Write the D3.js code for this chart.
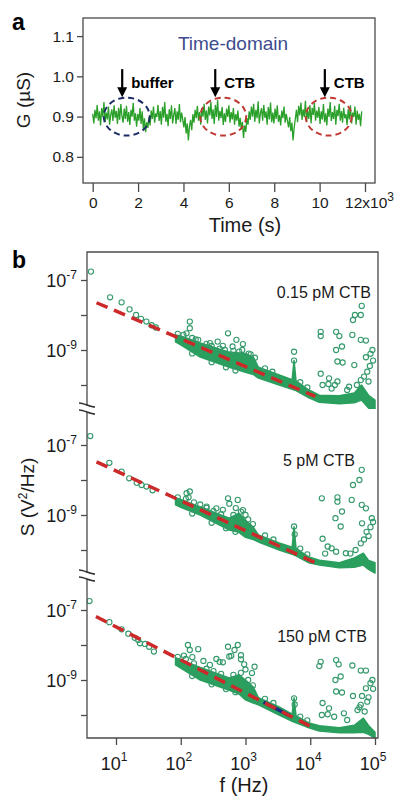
<!DOCTYPE html>
<html><head><meta charset="utf-8">
<script src="https://cdn.jsdelivr.net/npm/d3@7/dist/d3.min.js"></script>
<style>
body{margin:0;background:#fff}
svg{display:block;font-family:"Liberation Sans",Arial,sans-serif}
</style>
</head><body>
<svg id="c" width="400" height="805"></svg>
<script>
// ---------------- Panel a data ----------------
const conductance = [
0.907,0.883,0.917,0.896,0.929,0.890,0.913,0.878,0.921,0.899,0.936,0.886,0.910,0.893,0.925,0.880,0.904,0.918,0.889,0.928,
0.897,0.914,0.882,0.922,0.892,0.931,0.901,0.885,0.920,0.894,0.927,0.887,0.911,0.879,0.917,0.900,0.934,0.890,0.908,0.875,
0.906,0.890,0.921,0.882,0.913,0.869,0.896,0.861,0.886,0.872,0.899,0.878,0.915,0.894,0.925,0.885,0.908,0.899,0.929,0.889,
0.914,0.880,0.924,0.897,0.936,0.887,0.907,0.876,0.918,0.894,0.928,0.883,0.904,0.921,0.882,0.913,0.892,0.931,0.886,0.910,
0.893,0.873,0.899,0.858,0.883,0.841,0.876,0.892,0.866,0.906,0.885,0.917,0.896,0.927,0.890,0.911,0.880,0.921,0.900,0.932,
0.892,0.915,0.883,0.925,0.903,0.936,0.894,0.918,0.882,0.929,0.899,0.942,0.890,0.914,0.896,0.924,0.879,0.908,0.887,0.920,
0.899,0.928,0.885,0.911,0.893,0.921,0.880,0.906,0.890,0.915,0.875,0.897,0.868,0.887,0.847,0.878,0.862,0.896,0.880,0.913,
0.892,0.925,0.900,0.932,0.887,0.917,0.896,0.938,0.883,0.908,0.921,0.890,0.929,0.897,0.913,0.880,0.924,0.893,0.935,0.886,
0.910,0.883,0.920,0.894,0.928,0.887,0.904,0.878,0.915,0.896,0.925,0.885,0.907,0.890,0.873,0.899,0.864,0.885,0.841,0.872,
0.894,0.917,0.886,0.927,0.903,0.935,0.892,0.918,0.899,0.939,0.887,0.914,0.894,0.929,0.883,0.922,0.904,0.934,0.890,0.915,
0.897,0.924,0.882,0.913,0.893,0.931,0.886,0.908,0.878,0.920,0.899,0.936,0.889,0.911,0.894,0.927,0.880,0.917,0.901,0.932,
0.890,0.914,0.885,0.922,0.896,0.906,0.879,0.918,0.893,0.928,0.883,0.910,0.899,0.925,0.880,0.915,0.892,0.907,0.876,0.913
];
const traceStep = 49.6; // s between samples
const timeTicks = [0,2000,4000,6000,8000,10000,12000];
const timeTickLabels = ["0","2","4","6","8","10","12x10"];
const gTicks = [0.8,0.9,1.0,1.1];
const gTickLabels = ["0.8","0.9","1.0","1.1"];
const markerTimes = [1300,5400,10230];
const markerLabels = ["buffer","CTB","CTB"];
const circleTimes = [1500,5750,10400];
const circleKinds = ["buffer","CTB","CTB"];

// ---------------- Panel b data ----------------
const concentrations = ["0.15 pM CTB","5 pM CTB","150 pM CTB"];
const freqTicks = [10,100,1000,10000,100000];
const freqTickExp = ["1","2","3","4","5"];
const psdTicks = [1e-7,1e-8,1e-9,1e-10];
const psdLabelTicks = [1e-7,1e-9];
const psdLabelExp = ["-7","-9"];

// low-frequency sparse points [f (Hz), S (V^2/Hz)]
const lowF1 = [[4.1,1.74e-7],[8.1,3.2e-8],[12.2,2.3e-8],[16.2,1.45e-8],[20.4,1.0e-8],[24.3,7.8e-9],[29.5,6.5e-9],[35.5,5.1e-9],[41.2,4.4e-9]];
const lowF2 = [[4.0,1.8e-7],[7.9,3.1e-8],[12.2,1.74e-8],[16.0,1.12e-8],[20.9,8.3e-9],[24.8,7.2e-9],[29.5,6.5e-9],[36.7,5.1e-9]];
const lowF3 = [[3.9,1.8e-7],[7.9,4.5e-8],[12.2,2.8e-8],[15.5,2.1e-8],[19.5,1.6e-8],[22.0,1.4e-8],[23.4,1.12e-8],[28.0,1.07e-8],[32.5,8.9e-9],[38.5,6.5e-9]];

// dense band envelope [f, S low, S high]
const band1 = [[83,1.7e-9,2.7e-9],[100,1.41e-9,2.5e-9],[200,6.3e-10,1.58e-9],[562,3.2e-10,8.7e-10],[1000,2.3e-10,7.9e-10],[1318,2.0e-10,6.3e-10],[1585,1.58e-10,3.2e-10],[3311,1.0e-10,1.95e-10],[5250,7.6e-11,1.41e-10],[5623,7.2e-11,5.0e-10],[6026,6.9e-11,1.32e-10],[9550,4.3e-11,7.2e-11],[13800,3.2e-11,5.1e-11],[28200,2.9e-11,4.9e-11],[47900,3.1e-11,5.9e-11],[61700,3.7e-11,1.0e-10],[79400,2.2e-11,5.1e-11],[100000,1.7e-11,3.7e-11]];
const band2 = [[83,1.95e-9,3.1e-9],[100,1.66e-9,2.8e-9],[200,1.0e-9,1.7e-9],[562,3.7e-10,8.1e-10],[794,3.2e-10,1.12e-9],[1000,2.3e-10,7.1e-10],[1318,2.0e-10,4.5e-10],[1585,1.7e-10,2.7e-10],[3311,1.0e-10,1.58e-10],[5250,7.6e-11,1.2e-10],[5623,7.2e-11,4.6e-10],[6026,6.8e-11,1.12e-10],[9550,4.3e-11,6.3e-11],[13800,3.7e-11,5.1e-11],[28200,3.1e-11,4.3e-11],[47900,3.2e-11,5.9e-11],[66100,3.7e-11,8.1e-11],[79400,2.8e-11,5.0e-11],[100000,2.2e-11,4.3e-11]];
const band3 = [[83,2.7e-9,4.3e-9],[100,2.2e-9,3.8e-9],[200,1.0e-9,2.3e-9],[562,5.1e-10,1.15e-9],[794,4.0e-10,1.41e-9],[1000,2.7e-10,1.0e-9],[1318,2.2e-10,6.3e-10],[1585,1.95e-10,3.1e-10],[3311,1.0e-10,1.7e-10],[5250,6.6e-11,1.05e-10],[5623,6.3e-11,3.1e-10],[6026,6.0e-11,9.5e-11],[9550,4.3e-11,5.9e-11],[13800,3.5e-11,4.9e-11],[28200,3.1e-11,4.3e-11],[47900,3.1e-11,5.1e-11],[66100,3.2e-11,8.1e-11],[79400,2.8e-11,5.0e-11],[100000,2.2e-11,3.2e-11]];

// points along the edges of the dense band [f, S]
const edge1 = [[90,2.9e-9],[110,2.7e-9],[150,2.2e-9],[170,2.0e-9],[250,1.5e-9],[300,1.3e-9],[400,1.1e-9],[480,1.0e-9],[650,9.5e-10],[800,9.0e-10],[1200,7.5e-10],[1400,6.0e-10],[2000,3.0e-10],[2600,2.4e-10],[7000,1.2e-10],[9000,8.5e-11],[150,8.0e-10],[300,4.5e-10],[500,3.2e-10],[700,2.6e-10]];
const edge2 = [[90,3.2e-9],[120,2.9e-9],[160,2.3e-9],[250,1.6e-9],[320,1.3e-9],[420,1.05e-9],[650,1.0e-9],[850,1.25e-9],[1100,7.5e-10],[1300,5.5e-10],[2000,2.6e-10],[2700,2.0e-10],[7000,1.1e-10],[9000,7.5e-11],[150,1.1e-9],[300,6.0e-10],[500,4.2e-10],[700,3.3e-10]];
const edge3 = [[90,4.6e-9],[120,4.0e-9],[160,3.0e-9],[250,2.1e-9],[320,1.8e-9],[420,1.5e-9],[650,1.4e-9],[850,1.6e-9],[1100,1.0e-9],[1300,7.0e-10],[2000,2.9e-10],[2700,2.2e-10],[7000,9.0e-11],[9000,7.0e-11],[150,1.3e-9],[300,7.5e-10],[500,5.5e-10],[700,4.5e-10]];

// scattered points above the band [f, S]
const scatter1 = [[138,6.5e-9],[138,4.2e-9],[123,3.0e-9],[186,1.95e-9],[372,1.74e-9],[537,3.0e-9],[724,1.95e-9],[912,1.48e-9],[631,1.26e-9],[447,1.32e-9],[891,1.0e-9],[1122,7.9e-10],[282,1.58e-9],[5623,8.9e-10],[5623,5.0e-10],
[62400,1.82e-8],[45700,7.2e-9],[49000,1.0e-8],[60300,1.0e-8],[14500,3.3e-9],[14500,2.5e-9],[25100,3.3e-9],[28200,2.5e-9],[44700,2.7e-9],[60300,1.95e-9],[72400,1.86e-9],[25100,1.0e-9],[30900,1.26e-9],[26300,4.7e-10],[31600,4.4e-10],[47900,3.7e-10],[72400,6.2e-10],[85100,7.8e-10],[91200,1.0e-9],[14500,2.1e-10],[19500,1.55e-10],[15500,1.0e-10],[19100,1.07e-10],[24000,1.0e-10],[26300,1.26e-10],[37200,7.2e-11],[60300,1.38e-10],[67600,1.74e-10],[75900,2.4e-10],[39800,8.9e-11],[21400,7.9e-11],[52500,1.0e-10],[79400,1.26e-10],[83200,3.5e-10],[93300,5.0e-10]];
const scatter2 = [[123,4.2e-9],[138,4.7e-9],[132,3.2e-9],[537,3.0e-9],[562,2.1e-9],[759,2.7e-9],[912,1.38e-9],[251,1.74e-9],[355,1.55e-9],[200,2.0e-9],[447,1.41e-9],[708,1.58e-9],[1000,1.0e-9],[5623,4.7e-10],[5750,2.8e-10],
[62400,1.95e-8],[57500,1.0e-8],[45700,7.2e-9],[15100,3.0e-9],[26300,3.2e-9],[26300,2.4e-9],[43700,2.7e-9],[62400,1.95e-9],[72400,1.55e-9],[89100,8.1e-10],[24500,8.1e-10],[30900,1.26e-9],[29500,4.7e-10],[63100,5.8e-10],[74100,3.3e-10],[15500,2.1e-10],[18600,1.26e-10],[21400,1.12e-10],[35500,8.1e-11],[60300,1.55e-10],[67600,2.0e-10],[79400,2.5e-10],[85100,4.5e-10],[93300,6.3e-10],[25100,8.9e-11],[41700,7.9e-11],[50100,1.0e-10],[17000,7.9e-11]];
const scatter3 = [[129,1.0e-8],[138,7.2e-9],[186,7.6e-9],[537,8.9e-9],[562,4.7e-9],[759,1.0e-8],[676,7.2e-9],[851,5.1e-9],[851,3.9e-9],[603,4.9e-9],[1380,2.4e-9],[398,3.3e-9],[282,2.7e-9],[224,3.5e-9],[355,4.0e-9],[447,3.2e-9],[112,5.0e-9],[151,4.5e-9],[1000,2.0e-9],[1259,1.58e-9],[955,2.8e-9],[5623,3.0e-10],[5750,2.0e-10],
[13800,2.5e-9],[14500,3.3e-9],[25100,3.7e-9],[27500,2.8e-9],[44700,2.6e-9],[60300,1.86e-9],[72400,1.86e-9],[24500,1.0e-9],[29500,1.26e-9],[25100,4.7e-10],[30900,4.4e-10],[45700,3.5e-10],[85100,8.1e-10],[91200,1.0e-9],[72400,5.8e-10],[63100,3.5e-10],[60300,1.95e-10],[15500,2.2e-10],[19500,1.55e-10],[15100,1.0e-10],[18600,1.05e-10],[23400,8.9e-11],[37200,7.2e-11],[53700,1.38e-10],[57500,1.66e-10],[75900,2.4e-10],[79400,3.2e-10],[69200,1.26e-10],[93300,5.6e-10],[33100,1.12e-10]];

// 1/f fit lines [[f0,S0],[f1,S1]]
const fit1 = [[5.0,2.24e-8],[12000,4.7e-11]];
const fit2 = [[5.0,3.3e-8],[12300,4.2e-11]];
const fit3 = [[4.9,6.5e-8],[11500,4.2e-11]];
const fit3Highlight = [1900,4800];

// ---------------- Drawing ----------------
const svg = d3.select("#c");
const GREEN_TRACE = "#2aa02a";
const axisColor = "#4a4a4a";
const textColor = "#1a1a1a";

// ===== Panel a =====
const xT = d3.scaleLinear().domain([0,12000]).range([92.7,365]);
const yG = d3.scaleLinear().domain([0.735,1.145]).range([183,18]);

const trace = conductance.map((g,i)=>[i*traceStep, g]);
svg.append("path").datum(trace)
  .attr("d", d3.line().x(d=>xT(d[0])).y(d=>yG(d[1])))
  .attr("fill","none").attr("stroke",GREEN_TRACE).attr("stroke-width",1.3);

// ellipses
svg.selectAll(".ell").data(circleTimes).enter().append("ellipse")
  .attr("cx",d=>xT(d)).attr("cy",yG(0.9)).attr("rx",23).attr("ry",19)
  .attr("fill","none")
  .attr("stroke",(d,i)=>circleKinds[i]==="buffer"?"#1c2a66":"#c03a34")
  .attr("stroke-width",2).attr("stroke-dasharray","6,4");

// arrows
markerTimes.forEach((t,i)=>{
  const x = xT(t);
  svg.append("line").attr("x1",x).attr("x2",x).attr("y1",yG(1.018)).attr("y2",yG(0.97))
    .attr("stroke","#000").attr("stroke-width",2.2);
  svg.append("path").attr("d",`M${x-5},${yG(0.973)}L${x+5},${yG(0.973)}L${x},${yG(0.948)}Z`).attr("fill","#000");
  svg.append("text").attr("x",x+9).attr("y",88).attr("font-size",15).attr("font-weight","bold")
    .attr("fill","#000").text(markerLabels[i]);
});

// frame
svg.append("rect").attr("x",83).attr("y",18).attr("width",292).attr("height",165)
  .attr("fill","none").attr("stroke",axisColor).attr("stroke-width",1.3);

const gy = svg.append("g").attr("transform","translate(83,0)")
  .call(d3.axisLeft(yG).tickValues(gTicks).tickSize(6).tickPadding(3).tickFormat((d,i)=>gTickLabels[i]));
const gx = svg.append("g").attr("transform","translate(0,183)")
  .call(d3.axisBottom(xT).tickValues(timeTicks).tickSize(9).tickPadding(5).tickFormat((d,i)=>timeTickLabels[i]));
[gy,gx].forEach(g=>{
  g.select(".domain").remove();
  g.selectAll(".tick line").attr("stroke",axisColor).attr("stroke-width",1.3);
  g.selectAll(".tick text").attr("fill",textColor).attr("font-size",15.5).attr("font-family","Liberation Sans, Arial, sans-serif");
});
gx.selectAll(".tick text").filter((d,i)=>i===timeTicks.length-1)
  .attr("dx","4").append("tspan").attr("dy","-7").attr("font-size",12).text("3");

svg.append("text").attr("x",233).attr("y",50).attr("text-anchor","middle")
  .attr("font-size",19).attr("fill","#3e4b8e").text("Time-domain");
svg.append("text").attr("x",245).attr("y",232).attr("text-anchor","middle")
  .attr("font-size",20).attr("fill",textColor).text("Time (s)");
svg.append("text").attr("transform","translate(30,100) rotate(-90)").attr("text-anchor","middle")
  .attr("font-size",19).attr("fill",textColor).text("G (µS)");
svg.append("text").attr("x",12).attr("y",30).attr("font-size",23).attr("font-weight","bold").text("a");

// ===== Panel b =====
const xF = d3.scaleLog().domain([10,1e5]).range([116,375]);
const subTops = [252,417,582];
const subClips = [[252,409],[409,576],[576,738]];
const lows = [lowF1,lowF2,lowF3];
const bands = [band1,band2,band3];
const edges = [edge1,edge2,edge3];
const scatters = [scatter1,scatter2,scatter3];
const fits = [fit1,fit2,fit3];
const labelPos = [[371,298],[355,466],[367,642]];

const defs = svg.append("defs");
subTops.forEach((top,k)=>{
  const y = d3.scaleLog().domain([1e-7,1e-10]).range([top+28, top+133]);
  defs.append("clipPath").attr("id","clip"+k).append("rect")
    .attr("x",87).attr("y",subClips[k][0]).attr("width",291).attr("height",subClips[k][1]-subClips[k][0]);
  const g = svg.append("g").attr("clip-path",`url(#clip${k})`);
  const BAND = "#2a9f5e";
  g.append("path").datum(bands[k])
    .attr("d", d3.area().x(d=>xF(d[0])).y0(d=>y(d[1])).y1(d=>y(d[2])))
    .attr("fill",BAND).attr("stroke",BAND).attr("stroke-width",1.5).attr("stroke-linejoin","round");
  g.selectAll(".pt").data(lows[k].concat(edges[k], scatters[k])).enter().append("circle")
    .attr("cx",d=>xF(d[0])).attr("cy",d=>y(d[1])).attr("r",2.6)
    .attr("fill","none").attr("stroke","#34996a").attr("stroke-width",1.1);
  const ln = d3.line().x(d=>xF(d[0])).y(d=>y(d[1]));
  if(k===2){
    const f = fits[k];
    const slope = Math.log(f[1][1]/f[0][1])/Math.log(f[1][0]/f[0][0]);
    const hl = fit3Highlight.map(fr=>[fr, f[0][1]*Math.pow(fr/f[0][0],slope)]);
    g.append("path").datum(hl).attr("d",ln).attr("stroke","#1d2a80").attr("stroke-width",3.5).attr("fill","none");
  }
  g.append("path").datum(fits[k]).attr("d",ln)
    .attr("fill","none").attr("stroke","#cc2a2a").attr("stroke-width",3.5).attr("stroke-dasharray","12,7");

  // y axis ticks
  const ay = svg.append("g").attr("transform","translate(87,0)")
    .call(d3.axisLeft(y).tickValues(psdTicks).tickSize(6).tickFormat(()=>""));
  ay.select(".domain").remove();
  ay.selectAll(".tick line").attr("stroke",axisColor).attr("stroke-width",1.3);
  psdLabelTicks.forEach((v,j)=>{
    const t = svg.append("text").attr("x",77).attr("y",y(v)+7).attr("text-anchor","end")
      .attr("font-size",18).attr("fill",textColor);
    t.append("tspan").text("10");
    t.append("tspan").attr("dy",-8).attr("font-size",12).text(psdLabelExp[j]);
  });
  svg.append("text").attr("x",labelPos[k][0]).attr("y",labelPos[k][1]).attr("text-anchor","end")
    .attr("font-size",16).attr("fill",textColor).text(concentrations[k]);
});

// frame of panel b
svg.append("path").attr("d","M87,252H378V738H87Z").attr("fill","none").attr("stroke",axisColor).attr("stroke-width",1.3);
// axis breaks
[409,576].forEach(yb=>{
  svg.append("rect").attr("x",83).attr("y",yb-3).attr("width",8).attr("height",6).attr("fill","#fff");
  svg.append("path").attr("d",`M79,${yb-6}C84,${yb-6} 90,${yb-2} 95,${yb-2}`).attr("fill","none").attr("stroke","#333").attr("stroke-width",1.6);
  svg.append("path").attr("d",`M79,${yb+1}C84,${yb+1} 90,${yb+5} 95,${yb+5}`).attr("fill","none").attr("stroke","#333").attr("stroke-width",1.6);
});

// x axis
const ax = svg.append("g").attr("transform","translate(0,738)")
  .call(d3.axisBottom(xF).tickValues(freqTicks).tickSize(7).tickFormat(()=>""));
ax.select(".domain").remove();
ax.selectAll(".tick line").attr("stroke",axisColor).attr("stroke-width",1.3);
freqTicks.forEach((v,j)=>{
  const t = svg.append("text").attr("x",xF(v)-2).attr("y",770).attr("text-anchor","middle")
    .attr("font-size",18).attr("fill",textColor);
  t.append("tspan").text("10");
  t.append("tspan").attr("dy",-9).attr("font-size",12).text(freqTickExp[j]);
});
svg.append("text").attr("x",244).attr("y",792).attr("text-anchor","middle")
  .attr("font-size",20).attr("fill",textColor).text("f (Hz)");
svg.append("text").attr("transform","translate(34,497) rotate(-90)").attr("text-anchor","middle")
  .attr("font-size",19).attr("fill",textColor)
  .call(t=>{t.append("tspan").text("S (V");t.append("tspan").attr("dy",-7).attr("font-size",12).text("2");t.append("tspan").attr("dy",7).text("/Hz)");});
svg.append("text").attr("x",12).attr("y",268).attr("font-size",23).attr("font-weight","bold").text("b");
</script>
</body></html>
